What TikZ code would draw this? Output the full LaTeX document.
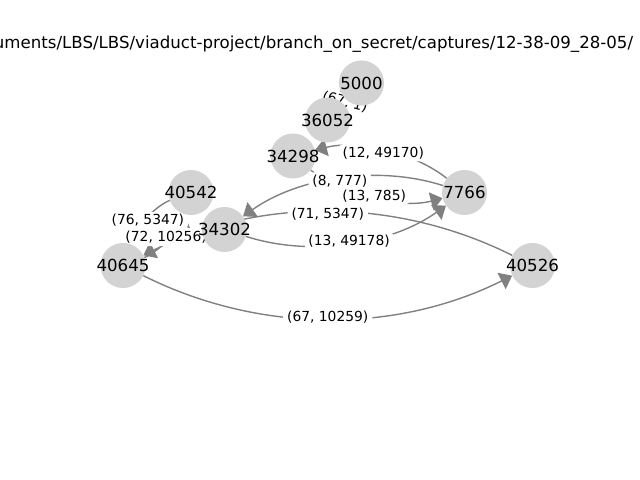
\documentclass[tikz,border=0pt]{standalone}
\usepackage{fontspec}
\setmainfont{DejaVu Sans}
\usetikzlibrary{arrows.meta,calc}
\definecolor{nodegray}{HTML}{D3D3D3}
\definecolor{edgegray}{HTML}{808080}
\pgfdeclarelayer{paper}
\pgfdeclarelayer{edgelayer}
\pgfdeclarelayer{labellayer}
\pgfsetlayers{paper,edgelayer,labellayer,main}

% Directed edge bent to the right of its direction of travel: a quadratic
% arc whose control point lies a quarter of the chord off the midpoint,
% written as the equivalent cubic. #3 names the arc's midpoint.
\newcommand{\arcedge}[3]{%
  \coordinate (#3m) at ($(#1.center)!0.5!(#2.center)$);
  \coordinate (#3c) at ($(#3m)!0.5!-90:(#2.center)$);
  \coordinate (#3)  at ($(#3m)!0.25!-90:(#2.center)$);
  \draw[edge] (#1) .. controls ($(#1.center)!2/3!(#3c)$)
                        and ($(#2.center)!2/3!(#3c)$) .. (#2);
}

\begin{document}
\begin{tikzpicture}[x=0.01in,y=-0.01in,
  vertex/.style={circle, fill=nodegray, minimum size=0.45in, inner sep=0pt,
    font=\fontsize{12}{14}\selectfont},
  edge/.style={draw=edgegray, line width=1pt,
    -{Triangle[length=8.5pt,width=13pt]}},
  elabel/.style={fill=white, rounded corners=3pt, inner xsep=2.8pt,
    inner ysep=1.8pt, font=\fontsize{10}{12}\selectfont},
  heading/.style={font=\fontsize{12}{14}\selectfont},
]
\begin{pgfonlayer}{paper}
  \fill[white] (0,0) rectangle (640,480);
\end{pgfonlayer}
\useasboundingbox (0,0) rectangle (640,480);

% title (the path is wider than the figure and runs off both edges)
\node[heading, anchor=base east] (title) at (638,49)
  {uments/LBS/LBS/viaduct-project/branch\_on\_secret/captures/12-38-09\_28-05/};

% graph nodes; the number may be wider than its disc
\node[vertex] (n5000)  at (361.5, 83)   {\makebox[0pt]{5000}};
\node[vertex] (n36052) at (327.5,120)   {\makebox[0pt]{36052}};
\node[vertex] (n34298) at (293,  156)   {\makebox[0pt]{34298}};
\node[vertex] (n40542) at (191,  192.5) {\makebox[0pt]{40542}};
\node[vertex] (n7766)  at (464.5,192.5) {\makebox[0pt]{7766}};
\node[vertex] (n34302) at (224.5,229.5) {\makebox[0pt]{34302}};
\node[vertex] (n40645) at (123,  265.5) {\makebox[0pt]{40645}};
\node[vertex] (n40526) at (532.5,265.5) {\makebox[0pt]{40526}};

% directed edges
\begin{pgfonlayer}{edgelayer}
  \arcedge{n5000}{n36052}{l1}
  \arcedge{n7766}{n34298}{l2}
  \arcedge{n34298}{n7766}{l3}
  \arcedge{n7766}{n34302}{l4}
  \arcedge{n34302}{n7766}{l5}
  \arcedge{n40526}{n40645}{l6}
  \arcedge{n40645}{n40526}{l7}
  \arcedge{n40542}{n40645}{l8}
  \arcedge{n40645}{n40542}{l9}
\end{pgfonlayer}

% edge labels
\begin{pgfonlayer}{labellayer}
  \node[elabel, rotate=-15] (t1) at (345,102) {(67, 1)};
  \node[elabel] (t2) at (l2) {(12, 49170)};
  \node[elabel] (t4) at (l4) {(8, 777)};
  \node[elabel] (t3) at (l3) {(13, 785)};
  \node[elabel] (t5) at (l5) {(13, 49178)};
  \node[elabel] (t6) at (l6) {(71, 5347)};
  \node[elabel] (t7) at (l7) {(67, 10259)};
  \node[elabel] (t8) at (l8) {(76, 5347)};
  \node[elabel] (t9) at (l9) {(72, 10256)};
\end{pgfonlayer}
\end{tikzpicture}
\end{document}
